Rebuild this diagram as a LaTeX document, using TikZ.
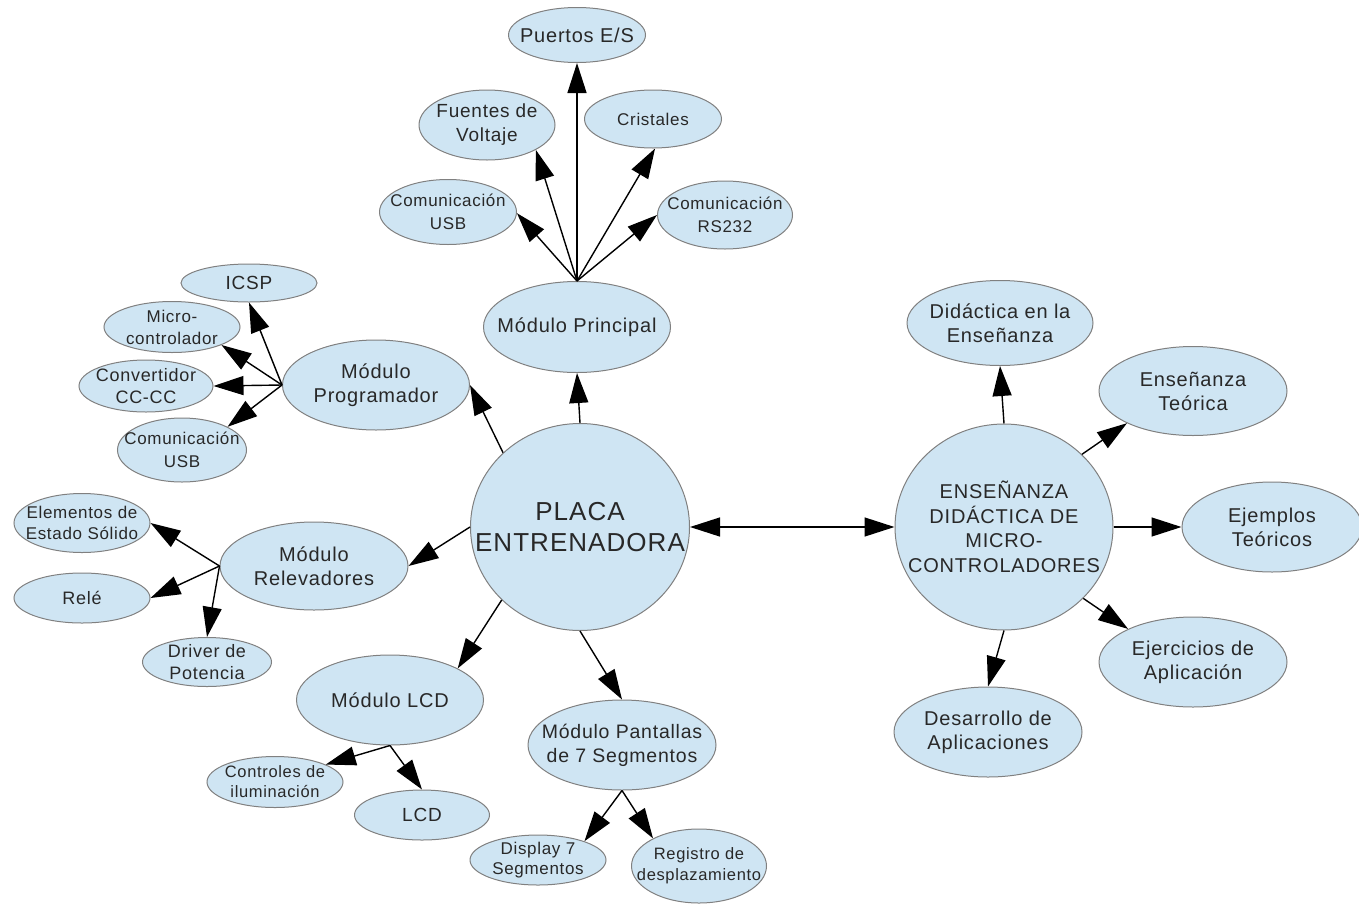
\documentclass[tikz,border=0pt]{standalone}
\usepackage{fontspec}
\setmainfont{Liberation Sans}[LetterSpace=4]
\usetikzlibrary{shapes.geometric,arrows.meta}
\definecolor{bubble}{RGB}{207,229,243}
\definecolor{rim}{RGB}{128,128,128}
\definecolor{txt}{RGB}{40,40,40}
\tikzset{
  bub/.style={ellipse, draw=rim, fill=bubble, line width=1pt, inner xsep=-80pt, inner ysep=-40pt, align=center, text=txt},
  sz/.style 2 args={minimum width=#1pt, minimum height=#2pt},
  arr/.style={-{Triangle[length=30pt,width=19pt]}, line width=1.4pt, draw=black},
  biarr/.style={{Triangle[length=30pt,width=19pt]}-{Triangle[length=30pt,width=19pt]}, line width=1.4pt, draw=black},
}
\begin{document}
\begin{tikzpicture}[x=1pt,y=-1pt]
\useasboundingbox (0,0) rectangle (1359,905);
% central nodes
\node[bub, sz={219}{207}, font=\fontsize{26}{31}\selectfont] (placa) at (580,527) {PLACA\\ENTRENADORA};
\node[bub, sz={218}{206}, font=\fontsize{20}{24.5}\selectfont] (ens) at (1004,527) {ENSEÑANZA\\DIDÁCTICA DE\\MICRO-\\CONTROLADORES};
% modulo principal
\node[bub, sz={187}{91}, font=\fontsize{20}{24}\selectfont] (mp) at (577,327) {Módulo Principal};
\node[bub, sz={137}{55}, font=\fontsize{20}{24}\selectfont] (puertos) at (577,35) {Puertos E/S};
\node[bub, sz={136}{70}, font=\fontsize{19}{24}\selectfont] (fuentes) at (487,125) {Fuentes de\\Voltaje};
\node[bub, sz={137}{58}, font=\fontsize{17}{21}\selectfont] (cristales) at (653,119) {Cristales};
\node[bub, sz={137}{65}, font=\fontsize{17}{23}\selectfont] (usba) at (448,212) {Comunicación\\USB};
\node[bub, sz={135}{68}, font=\fontsize{17}{23}\selectfont] (rs) at (725,215) {Comunicación\\RS232};
% programador
\node[bub, sz={187}{90}, font=\fontsize{20}{24}\selectfont] (prog) at (376,385) {Módulo\\Programador};
\node[bub, sz={136}{38}, font=\fontsize{19}{23}\selectfont] (icsp) at (249,283) {ICSP};
\node[bub, sz={136}{51}, font=\fontsize{17}{22}\selectfont] (micro) at (172,327) {Micro-\\controlador};
\node[bub, sz={134}{52}, font=\fontsize{18}{22}\selectfont] (conv) at (146,386) {Convertidor\\CC-CC};
\node[bub, sz={129}{64}, font=\fontsize{17}{23}\selectfont] (usbb) at (182,450) {Comunicación\\USB};
% relevadores
\node[bub, sz={188}{88}, font=\fontsize{20}{24}\selectfont] (rel) at (314,566) {Módulo\\Relevadores};
\node[bub, sz={136}{59}, font=\fontsize{17}{21}\selectfont] (elem) at (82,523) {Elementos de\\Estado Sólido};
\node[bub, sz={136}{50}, font=\fontsize{18}{22}\selectfont] (rele) at (82,598) {Relé};
\node[bub, sz={129}{49}, font=\fontsize{18}{22}\selectfont] (driver) at (207,662) {Driver de\\Potencia};
% lcd
\node[bub, sz={187}{90}, font=\fontsize{20}{24}\selectfont] (lcdm) at (390,700) {Módulo LCD};
\node[bub, sz={136}{51}, font=\fontsize{16.5}{20}\selectfont] (ctrl) at (275,782) {Controles de\\iluminación};
\node[bub, sz={135}{50}, font=\fontsize{19}{22}\selectfont] (lcd) at (422,815) {LCD};
% pantallas
\node[bub, sz={188}{90}, font=\fontsize{19.5}{24}\selectfont] (pant) at (622,745) {Módulo Pantallas\\de 7 Segmentos};
\node[bub, sz={136}{50}, font=\fontsize{17}{20}\selectfont] (disp) at (538,860) {Display 7\\Segmentos};
\node[bub, sz={135}{74}, font=\fontsize{16.5}{21}\selectfont] (reg) at (699,866) {Registro de\\desplazamiento};
% right side
\node[bub, sz={186}{85}, font=\fontsize{20}{24}\selectfont] (did) at (1000,323) {Didáctica en la\\Enseñanza};
\node[bub, sz={188}{89}, font=\fontsize{20}{24}\selectfont] (teo) at (1193,391) {Enseñanza\\Teórica};
\node[bub, sz={180}{90}, font=\fontsize{20}{24}\selectfont] (ejem) at (1272,527) {Ejemplos\\Teóricos};
\node[bub, sz={188}{90}, font=\fontsize{20}{24}\selectfont] (ejer) at (1193,662) {Ejercicios de\\Aplicación};
\node[bub, sz={188}{90}, font=\fontsize{20}{24}\selectfont] (des) at (988,732) {Desarrollo de\\Aplicaciones};
% edges from placa
\draw[arr] (placa.north) -- (mp.south);
\draw[arr] (placa.136.5) -- (prog.east);
\draw[arr] (placa.west) -- (rel.east);
\draw[arr] (placa.223.5) -- (lcdm.25.9);
\draw[arr] (placa.south) -- (pant.north);
\draw[biarr] (placa.east) -- (ens.west);
% modulo principal
\draw[arr] (mp.north) -- (puertos.south);
\draw[arr] (mp.north) -- (fuentes.-27.5);
\draw[arr] (mp.north) -- (cristales.-86);
\draw[arr] (mp.north) -- (usba.-1);
\draw[arr] (mp.north) -- (rs.west);
% programador
\draw[arr] (prog.west) -- (icsp.south);
\draw[arr] (prog.west) -- (micro.-20.6);
\draw[arr] (prog.west) -- (conv.east);
\draw[arr] (prog.west) -- (usbb.27.1);
% relevadores
\draw[arr] (rel.west) -- (elem.east);
\draw[arr] (rel.west) -- (rele.east);
\draw[arr] (rel.west) -- (driver.north);
% lcd
\draw[arr] (lcdm.south) -- (ctrl.19.5);
\draw[arr] (lcdm.south) -- (lcd.north);
% pantallas
\draw[arr] (pant.south) -- (disp.22.2);
\draw[arr] (pant.south) -- (reg.149.7);
% ensenanza
\draw[arr] (ens.north) -- (did.south);
\draw[arr] (ens.43.5) -- (teo.206.6);
\draw[arr] (ens.east) -- (ejem.west);
\draw[arr] (ens.-42.7) -- (ejer.153.8);
\draw[arr] (ens.south) -- (des.north);
\end{tikzpicture}
\end{document}
